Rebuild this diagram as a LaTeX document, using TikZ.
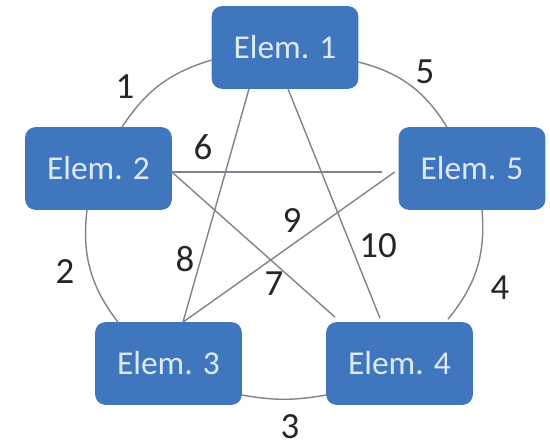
\documentclass[tikz,border=0pt]{standalone}
\usepackage{fontspec}
\setmainfont{Carlito}
\usetikzlibrary{calc}
\definecolor{elemblue}{RGB}{64,118,190}
\definecolor{elemtext}{RGB}{222,233,246}
\definecolor{linkgray}{RGB}{125,132,140}
\begin{document}
\begin{tikzpicture}[x=0.02cm,y=0.02cm,
  elem/.style={draw=elemblue,fill=elemblue,rounded corners=0.2cm,minimum width=2.92cm,minimum height=1.64cm,text=elemtext,font=\fontsize{19}{21}\selectfont},
  link/.style={draw=linkgray,line width=0.8pt},
  num/.style={text=black!85,font=\fontsize{21}{23}\selectfont}]
\useasboundingbox (0,0) rectangle (550,-446);
\node[elem] (e1) at (285,-47.5) {Elem. 1};
\node[elem] (e2) at (98.5,-168.5) {Elem. 2};
\node[elem] (e3) at (168.5,-363.5) {Elem. 3};
\node[elem] (e4) at (399.5,-363.5) {Elem. 4};
\node[elem] (e5) at (472,-168.5) {Elem. 5};
% star
\draw[link] ($(e1.south)+(-36,0)$) -- ($(e3.north)+(14.5,0)$);
\draw[link] ($(e1.south)+(3,0)$) -- ($(e4.north)+(-19.5,4)$);
\draw[link] ($(e2.east)+(0,-3.5)$) -- ($(e4.north)+(-64.5,5)$);
\draw[link] ($(e5.west)+(-4,-3.5)$) -- ($(e3.north)+(14.5,0)$);
\draw[link] ($(e2.east)+(0,-3.5)$) -- ($(e5.west)+(-17,-3.5)$);
% ring
\draw[link] ($(e2.north)+(23.5,0)$) to[bend left=20] ($(e1.west)+(0,-12.5)$);
\draw[link] ($(e1.east)+(0,-14.5)$) to[bend left=22] ($(e5.north)+(-25,0)$);
\draw[link] ($(e5.south)+(10,0)$) to[bend left=22] ($(e4.north)+(48.5,3)$);
\draw[link] ($(e4.west)+(0,-31.5)$) to[bend left=10] ($(e3.east)+(0,-31.5)$);
\draw[link] ($(e3.north)+(-50.5,0)$) to[bend left=22] ($(e2.south)+(-11.5,0)$);
% numbers
\node[num] (l1) at (125,-87) {1};
\node[num] (l2) at (65,-272) {2};
\node[num] (l3) at (290,-427) {3};
\node[num] (l4) at (500,-288) {4};
\node[num] (l5) at (425,-72) {5};
\node[num] (l6) at (203,-147) {6};
\node[num] (l7) at (274,-284) {7};
\node[num] (l8) at (185,-259) {8};
\node[num] (l9) at (292,-221) {9};
\node[num] (l10) at (378,-246) {10};
\end{tikzpicture}
\end{document}
